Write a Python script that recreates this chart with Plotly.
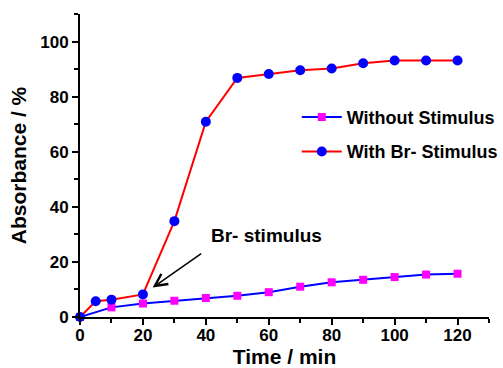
import plotly.graph_objects as go

x_without = [0, 10, 20, 30, 40, 50, 60, 70, 80, 90, 100, 110, 120]
y_without = [0, 3.5, 4.9, 5.9, 6.9, 7.7, 9.0, 11.0, 12.6, 13.5, 14.5, 15.4, 15.7]

x_with = [0, 5, 10, 20, 30, 40, 50, 60, 70, 80, 90, 100, 110, 120]
y_with = [0, 5.7, 6.3, 8.2, 34.8, 70.9, 86.8, 88.2, 89.6, 90.2, 92.1, 93.1, 93.1, 93.1]

x_ticks = [0, 20, 40, 60, 80, 100, 120]
y_ticks = [0, 20, 40, 60, 80, 100]

FONT = "Liberation Sans, Arial, sans-serif"

fig = go.Figure()
fig.add_trace(go.Scatter(
    x=x_without, y=y_without, mode="lines+markers", name="Without Stimulus",
    line=dict(color="#0000FF", width=2),
    marker=dict(symbol="square", size=8, color="#FF00FF"),
    legendgroup="a", cliponaxis=False,
))
fig.add_trace(go.Scatter(
    x=x_with, y=y_with, mode="lines+markers", name="With Br- Stimulus",
    line=dict(color="#FF0000", width=2),
    marker=dict(symbol="circle", size=10, color="#0000FF"),
    legendgroup="b", cliponaxis=False,
))

fig.add_annotation(
    x=23.1, y=10.7, ax=50, ay=-35,
    text="", showarrow=True, arrowhead=5, arrowsize=1.6, arrowwidth=1.5, arrowcolor="black",
)
fig.add_annotation(
    x=41.0, y=29.5, text="<b>Br- stimulus</b>", showarrow=False,
    xanchor="left", yanchor="middle", font=dict(family=FONT, size=19, color="black"),
)

axis_common = dict(
    showline=True, linecolor="black", linewidth=2, mirror=False,
    ticks="outside", ticklen=6, tickwidth=2, tickcolor="black",
    showgrid=False, zeroline=False, automargin=False,
    tickfont=dict(family=FONT, size=17, color="black", weight="bold"),
    minor=dict(ticks="outside", ticklen=4, tickwidth=2, tickcolor="black", dtick=10, showgrid=False),
)

fig.update_xaxes(range=[0, 130], tickvals=x_ticks, **axis_common, ticklabelstandoff=-4,
                 title=dict(text="<b>Time / min</b>", font=dict(family=FONT, size=21, color="black"), standoff=10))
fig.update_yaxes(range=[0, 110], tickvals=y_ticks, **axis_common,
                 title=dict(text="<b>Absorbance / %</b>", font=dict(family=FONT, size=21, color="black"), standoff=8))

fig.update_layout(
    width=503, height=368,
    margin=dict(l=80, r=14, t=14, b=51, autoexpand=False),
    plot_bgcolor="white", paper_bgcolor="white",
    legend=dict(x=0.53, y=0.72, xanchor="left", yanchor="top",
                font=dict(family=FONT, size=18, color="black", weight="bold"),
                bgcolor="rgba(0,0,0,0)", traceorder="grouped", tracegroupgap=8,
                itemwidth=40),
)

fig.write_html("out.html")
